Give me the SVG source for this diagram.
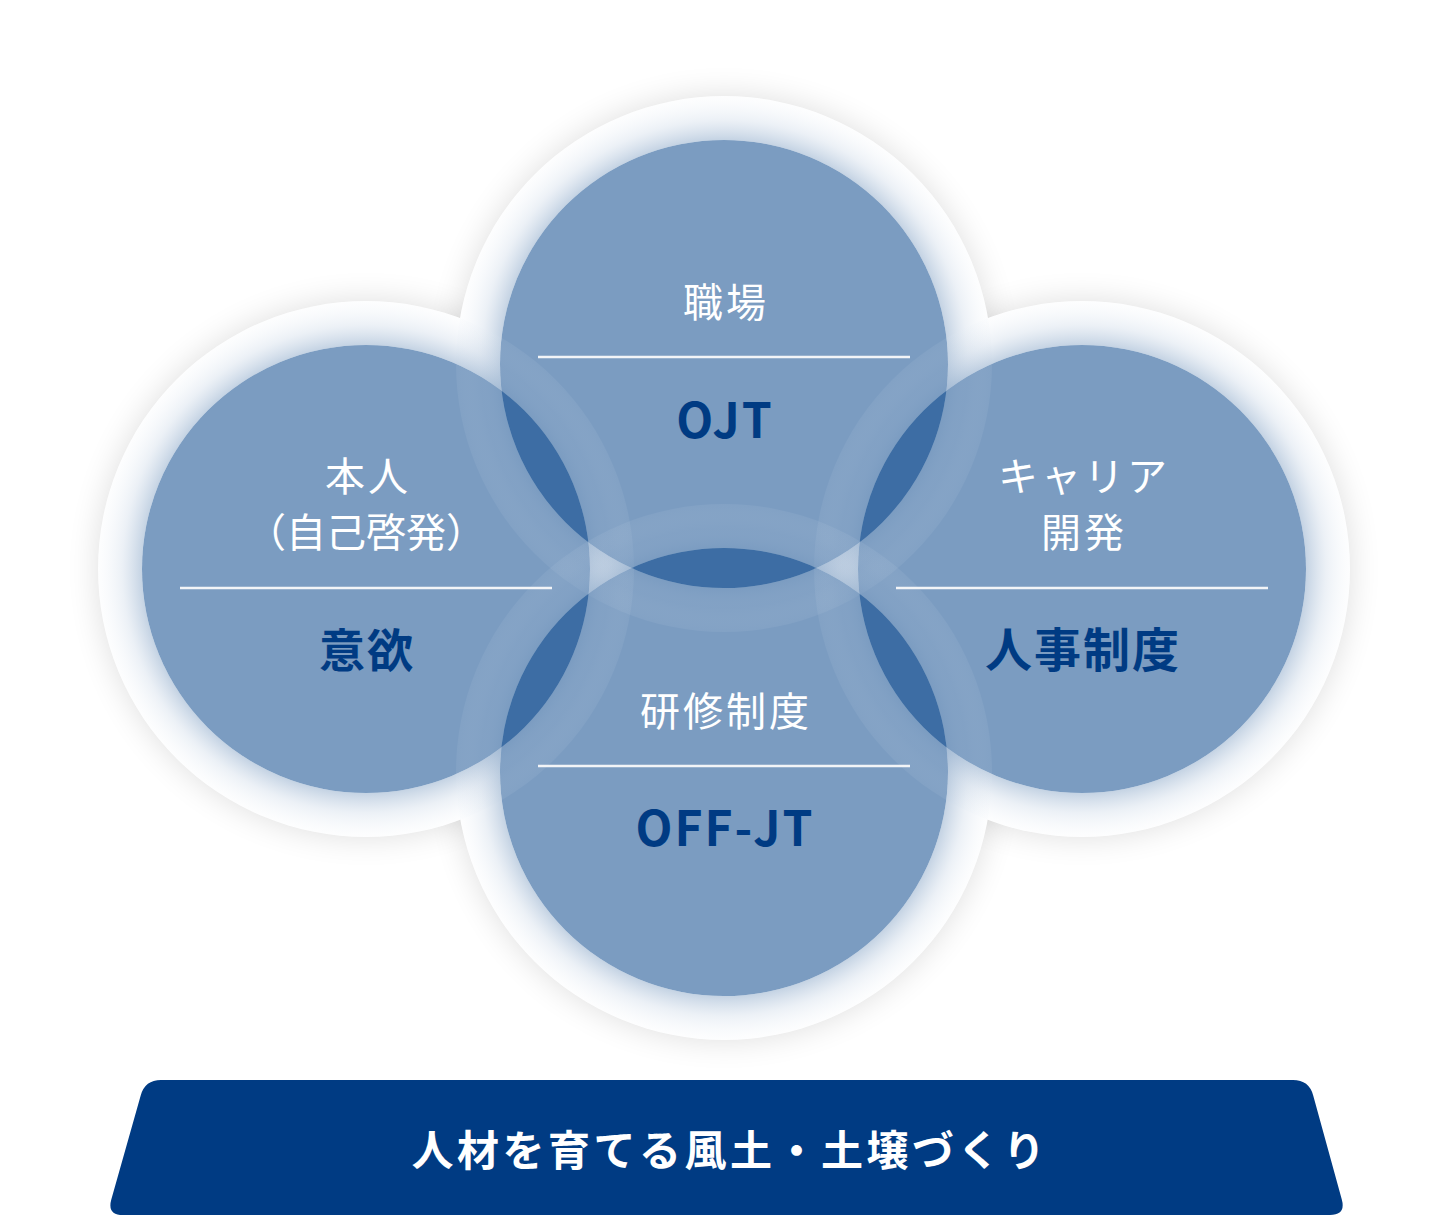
<svg xmlns="http://www.w3.org/2000/svg" width="1447" height="1216" viewBox="0 0 1447 1216">
<style>
.sh{fill:#000;opacity:0.13;filter:url(#blur)}
.wh{fill:#fff}
.disc{fill:#06448a;fill-opacity:0.53}
.halo{fill:url(#haloGrad)}
.sep{stroke:#f2f4f7;stroke-width:2.5}
.lbl{font-family:"Noto Sans CJK JP","Noto Sans",sans-serif;font-size:40px;fill:#fff;text-anchor:middle;letter-spacing:3px}
.key{font-family:"Noto Sans CJK JP","Noto Sans",sans-serif;font-weight:700;fill:#003b83;text-anchor:middle}
.en{font-family:"Noto Sans CJK JP","Noto Sans",sans-serif;font-weight:700;font-size:48px;fill:#003b83;text-anchor:middle;letter-spacing:2px}
.ban{font-family:"Noto Sans CJK JP","Noto Sans",sans-serif;font-weight:700;font-size:42px;fill:#fff;text-anchor:middle;letter-spacing:3.5px}
</style>
<defs>
<filter id="blur" x="-30%" y="-30%" width="160%" height="160%"><feGaussianBlur stdDeviation="16"/></filter>
<radialGradient id="haloGrad" cx="0.5" cy="0.5" r="0.5">
<stop offset="0.835" stop-color="#7b9cc1" stop-opacity="0.45"/>
<stop offset="0.91" stop-color="#9fb7d3" stop-opacity="0.2"/>
<stop offset="1" stop-color="#e4ecf5" stop-opacity="0.07"/>
</radialGradient>
</defs>
<rect width="1447" height="1216" fill="#fff"/>
<g id="shadows">
<circle class="sh" cx="724" cy="364" r="268"/>
<circle class="sh" cx="366" cy="569" r="268"/>
<circle class="sh" cx="1082" cy="569" r="268"/>
<circle class="sh" cx="724" cy="772" r="268"/>
</g>
<g id="bases">
<circle class="wh" cx="724" cy="364" r="268"/>
<circle class="wh" cx="366" cy="569" r="268"/>
<circle class="wh" cx="1082" cy="569" r="268"/>
<circle class="wh" cx="724" cy="772" r="268"/>
</g>
<g id="discs">
<circle class="disc" cx="724" cy="364" r="224"/>
<circle class="disc" cx="366" cy="569" r="224"/>
<circle class="disc" cx="1082" cy="569" r="224"/>
<circle class="disc" cx="724" cy="772" r="224"/>
</g>
<g id="halos">
<path class="halo" fill-rule="evenodd" d="M456,364a268,268 0 1,0 536,0a268,268 0 1,0 -536,0ZM500,364a224,224 0 1,0 448,0a224,224 0 1,0 -448,0Z"/>
<path class="halo" fill-rule="evenodd" d="M98,569a268,268 0 1,0 536,0a268,268 0 1,0 -536,0ZM142,569a224,224 0 1,0 448,0a224,224 0 1,0 -448,0Z"/>
<path class="halo" fill-rule="evenodd" d="M814,569a268,268 0 1,0 536,0a268,268 0 1,0 -536,0ZM858,569a224,224 0 1,0 448,0a224,224 0 1,0 -448,0Z"/>
<path class="halo" fill-rule="evenodd" d="M456,772a268,268 0 1,0 536,0a268,268 0 1,0 -536,0ZM500,772a224,224 0 1,0 448,0a224,224 0 1,0 -448,0Z"/>
</g>
<g id="node-top">
<text class="lbl" x="726" y="317">職場</text>
<line class="sep" x1="538" y1="357" x2="910" y2="357"/>
<text class="en" x="725" y="438">OJT</text>
</g>
<g id="node-left">
<text class="lbl" x="368" y="491">本人</text>
<text class="lbl" x="366" y="547" style="letter-spacing:0">（自己啓発）</text>
<line class="sep" x1="180" y1="588" x2="552" y2="588"/>
<text class="key" x="367" y="667" style="font-size:46px;letter-spacing:2px">意欲</text>
</g>
<g id="node-right">
<text class="lbl" x="1084" y="491">キャリア</text>
<text class="lbl" x="1084" y="547">開発</text>
<line class="sep" x1="896" y1="588" x2="1268" y2="588"/>
<text class="key" x="1083" y="667" style="font-size:47px;letter-spacing:2px">人事制度</text>
</g>
<g id="node-bottom">
<text class="lbl" x="726" y="726">研修制度</text>
<line class="sep" x1="538" y1="766" x2="910" y2="766"/>
<text class="en" x="725" y="846">OFF-JT</text>
</g>
<g id="banner">
<path fill="#003b83" d="M161,1080 L1293,1080 Q1309,1080 1313.2,1095.4 L1341.8,1199.6 Q1346,1215 1330,1215 L123,1215 Q107,1215 111.3,1199.6 L140.7,1095.4 Q145,1080 161,1080 Z"/>
<text class="ban" x="730" y="1166">人材を育てる風土・土壌づくり</text>
</g>
<g id="connectors"/>
</svg>
